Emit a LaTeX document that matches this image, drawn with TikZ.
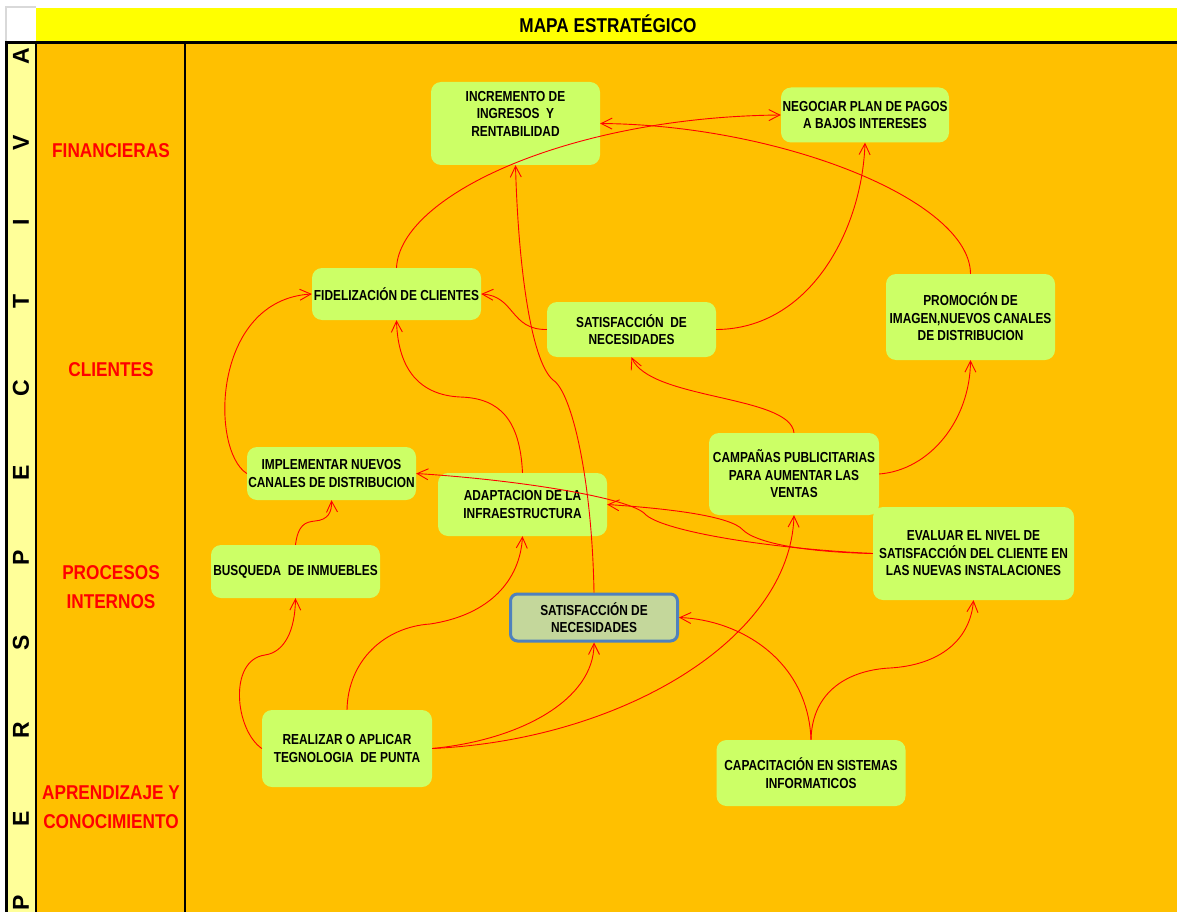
\documentclass[tikz,border=0pt]{standalone}
\usepackage{fontspec}
\setmainfont{Liberation Sans}
\newfontfamily\mapfont[FakeStretch=0.82]{Liberation Sans}
\newfontfamily\headfont[FakeStretch=0.86]{Liberation Sans}
\usetikzlibrary{arrows.meta}
\definecolor{mapOrange}{RGB}{255,192,0}
\definecolor{mapGreen}{RGB}{204,255,102}
\definecolor{mapOlive}{RGB}{196,215,155}
\definecolor{mapBlue}{RGB}{79,129,189}
\definecolor{mapPale}{RGB}{255,255,153}
\definecolor{mapYellow}{RGB}{255,255,0}
\definecolor{mapRed}{RGB}{255,0,0}
\definecolor{mapGrey}{RGB}{217,217,217}
\tikzset{
  goalbox/.style={fill=mapGreen,rounded corners=10pt,inner sep=0pt,align=center,
    font=\mapfont\bfseries\fontsize{14.5pt}{17.5pt}\selectfont},
  keybox/.style={goalbox,fill=mapOlive,draw=mapBlue,line width=3pt,rounded corners=7pt},
  enlace/.style={draw=mapRed,line width=0.9pt,-{Straight Barb[length=11pt,width=11pt]}},
  persp/.style={text=mapRed,align=center,font=\headfont\bfseries\fontsize{20pt}{29.5pt}\selectfont},
  letra/.style={rotate=90,inner sep=0pt,font=\bfseries\fontsize{23pt}{23pt}\selectfont}
}

\begin{document}
\begin{tikzpicture}[x=1pt,y=-1pt]
\useasboundingbox (0,0) rectangle (1177,912);
\fill[white] (0,0) rectangle (1177,912);
\fill[mapYellow] (36,8) rectangle (1177,41);
\fill[mapPale] (6,42) rectangle (36,912);
\fill[mapOrange] (36,42) rectangle (1177,912);
\draw[mapGrey,line width=2pt] (5.5,41) -- (5.5,7.5) -- (36,7.5);
\draw[black,line width=2.5pt] (5,42.5) -- (1177,42.5);
\draw[black,line width=2.5pt] (6.5,42) -- (6.5,912);
\draw[black,line width=2.5pt] (36,42) -- (36,912);
\draw[black,line width=2.5pt] (185,42) -- (185,912);

\node[font=\headfont\bfseries\fontsize{20pt}{20pt}\selectfont] (titulo) at (608,24) {MAPA ESTRATÉGICO};

\foreach \l/\y in {A/56,V/143,I/222,T/301,C/388,E/473,P/558,S/643,R/730,E/819,P/903}
  \node[letra] (l\y) at (21,\y) {\l};

\node[persp] (financ) at (111,151) {FINANCIERAS};
\node[persp] (client) at (111,369.5) {CLIENTES};
\node[persp] (proces) at (111,587) {PROCESOS\\INTERNOS};
\node[persp] (aprend) at (111,807) {APRENDIZAJE Y\\CONOCIMIENTO};

\node[goalbox,minimum width=169pt,minimum height=83pt] (inc) at (515.5,123.5) {INCREMENTO DE\\INGRESOS\ \ Y\\RENTABILIDAD\\[2pt]\mbox{}};
\node[goalbox,minimum width=168pt,minimum height=55pt] (neg) at (865,115) {NEGOCIAR PLAN DE PAGOS\\A BAJOS INTERESES};
\node[goalbox,minimum width=169pt,minimum height=52pt] (fid) at (396.5,294) {FIDELIZACIÓN DE CLIENTES};
\node[goalbox,minimum width=169pt,minimum height=55pt] (satcli) at (631.5,329.5) {SATISFACCIÓN\ \ DE\\NECESIDADES};
\node[goalbox,minimum width=169pt,minimum height=86pt] (prom) at (970.5,317) {PROMOCIÓN DE\\IMAGEN,NUEVOS CANALES\\DE DISTRIBUCION};
\node[goalbox,minimum width=169pt,minimum height=53pt] (impl) at (331.5,473.5) {IMPLEMENTAR NUEVOS\\CANALES DE DISTRIBUCION};
\node[goalbox,minimum width=169pt,minimum height=63pt] (adap) at (522.5,504.5) {ADAPTACION DE LA\\INFRAESTRUCTURA};
\node[goalbox,minimum width=170pt,minimum height=82pt] (camp) at (794,474) {CAMPAÑAS PUBLICITARIAS\\PARA AUMENTAR LAS\\VENTAS};
\node[goalbox,minimum width=201pt,minimum height=93pt] (eval) at (973.5,553.5) {EVALUAR EL NIVEL DE\\SATISFACCIÓN DEL CLIENTE EN\\LAS NUEVAS INSTALACIONES};
\node[goalbox,minimum width=169pt,minimum height=53pt] (busq) at (295.5,571.5) {BUSQUEDA\ \ DE INMUEBLES};
\node[keybox,minimum width=167pt,minimum height=47pt] (satproc) at (594,617.5) {SATISFACCIÓN DE\\NECESIDADES};
\node[goalbox,minimum width=170pt,minimum height=77pt] (real) at (347,748.5) {REALIZAR O APLICAR\\TEGNOLOGIA\ \ DE PUNTA};
\node[goalbox,minimum width=189pt,minimum height=66pt] (capac) at (811,773) {CAPACITACIÓN EN SISTEMAS\\INFORMATICOS};

\draw[enlace] (fid.north) .. controls (400,195) and (570,117) .. (neg.west);
\draw[enlace] (prom.north) .. controls (970,200) and (780,125) .. (inc.east);
\draw[enlace] (satcli.east) .. controls (810,329) and (862,230) .. (neg.south);
\draw[enlace] (satcli.west) .. controls (510,330) and (515,296) .. (fid.east);
\draw[enlace] (satproc.north) .. controls (592,480) and (572,392) .. (553,380) .. controls (530,360) and (518,260) .. (inc.south);
\draw[enlace] (adap.north) .. controls (520,420) and (500,398) .. (460,397) .. controls (420,395) and (398,370) .. (fid.south);
\draw[enlace] (impl.west) .. controls (210,450) and (212,300) .. (fid.west);
\draw[enlace] (busq.north) .. controls (298,525) and (305,522) .. (315,521) .. controls (328,520) and (332,512) .. (impl.south);
\draw[enlace] (camp.north) .. controls (790,395) and (650,400) .. (satcli.south);
\draw[enlace] (camp.east) .. controls (930,470) and (970,420) .. (prom.south);
\draw[enlace] (eval.west) .. controls (760,548) and (660,530) .. (645,514) .. controls (630,498) and (520,480) .. (impl.east);
\draw[enlace] (eval.west) .. controls (800,552) and (755,542) .. (743,530) .. controls (730,515) and (660,508) .. (adap.east);
\draw[enlace] (real.west) .. controls (235,730) and (228,660) .. (265,655) .. controls (285,652) and (295,630) .. (busq.south);
\draw[enlace] (real.north) .. controls (348,660) and (385,627) .. (430,624) .. controls (490,615) and (520,580) .. (adap.south);
\draw[enlace] (real.east) .. controls (520,740) and (594,700) .. (satproc.south);
\draw[enlace] (real.east) .. controls (620,740) and (790,640) .. (camp.south);
\draw[enlace] (capac.north) .. controls (808,660) and (740,620) .. (satproc.east);
\draw[enlace] (capac.north) .. controls (812,690) and (850,670) .. (890,668) .. controls (940,665) and (970,640) .. (eval.south);
\end{tikzpicture}
\end{document}
